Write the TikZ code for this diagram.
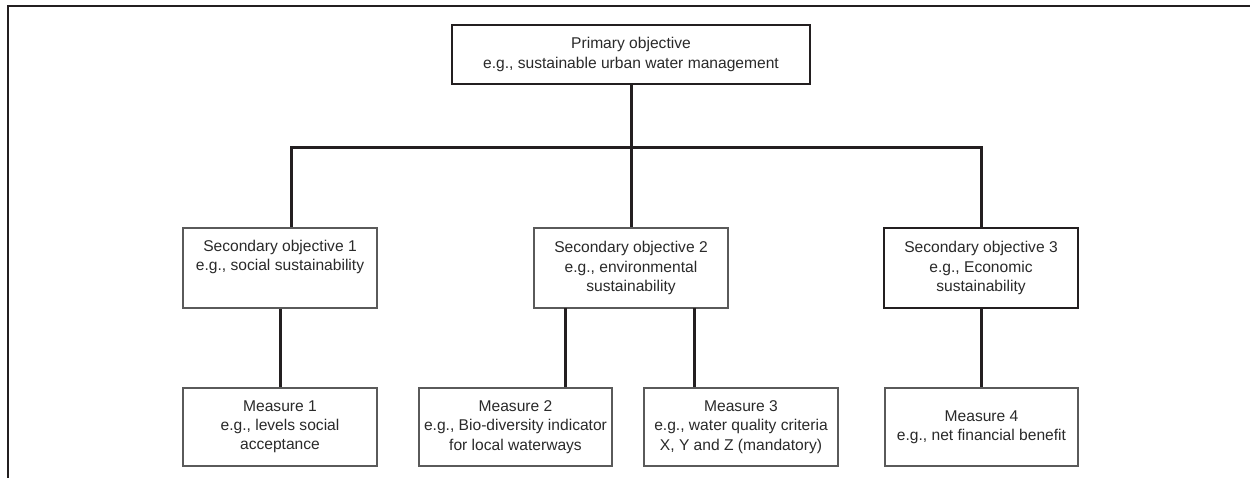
\documentclass[tikz,border=0pt]{standalone}
\usepackage{fontspec}
\setmainfont{Liberation Sans}
\definecolor{ink}{HTML}{231F20}
\definecolor{frame}{HTML}{5A5A5A}
\definecolor{txt}{HTML}{2A2A2A}
\begin{document}
\begin{tikzpicture}[x=1pt,y=-1pt,
  box/.style={draw=#1,line width=2pt,fill=white,align=center,
    font=\fontsize{15.6}{19.2}\selectfont,text=txt,inner sep=0pt},
  box/.default=frame,
  link/.style={draw=ink,line width=3pt}]
\useasboundingbox (0,0) rectangle (1250,478);
% outer frame (top and left edges)
\draw[ink,line width=2.5pt] (8,478) -- (8,6) -- (1250,6);

% primary objective
\node[box=ink,minimum width=358pt,minimum height=59pt] (prim) at (631,54.5)
  {Primary objective\\e.g., sustainable urban water management};

% secondary objectives
\node[box,minimum width=194pt,minimum height=80pt] (s1) at (280,268)
  {Secondary objective 1\\e.g., social sustainability\\\strut};
\node[box,minimum width=194pt,minimum height=80pt] (s2) at (631,268)
  {Secondary objective 2\\e.g., environmental\\sustainability};
\node[box=ink,minimum width=194pt,minimum height=80pt] (s3) at (981,268)
  {Secondary objective 3\\e.g., Economic\\sustainability};

% measures
\node[box,minimum width=194pt,minimum height=78pt] (m1) at (280,427)
  {Measure 1\\e.g., levels social\\acceptance};
\node[box,minimum width=193pt,minimum height=78pt] (m2) at (515.5,427)
  {Measure 2\\e.g., Bio-diversity indicator\\for local waterways};
\node[box,minimum width=194pt,minimum height=78pt] (m3) at (741,427)
  {Measure 3\\e.g., water quality criteria\\X, Y and Z (mandatory)};
\node[box,minimum width=193pt,minimum height=78pt] (m4) at (981.5,427)
  {Measure 4\\e.g., net financial benefit};

% branching bar
\coordinate (bl) at (291,148);
\coordinate (bc) at (631,148);
\coordinate (br) at (981,148);
\coordinate (d2) at (565,308);
\coordinate (d3) at (694,308);

\draw[link] (prim.south) -- (bc);
\draw[link,line cap=rect] (bl) -- (br);
\draw[link] (bl) -- (bl |- s1.north);
\draw[link] (bc) -- (s2.north);
\draw[link] (br) -- (br |- s3.north);

\draw[link] (s1.south) -- (m1.north);
\draw[link] (d2) -- (d2 |- m2.north);
\draw[link] (d3) -- (d3 |- m3.north);
\draw[link] (s3.south) -- (s3.south |- m4.north);
\end{tikzpicture}
\end{document}
